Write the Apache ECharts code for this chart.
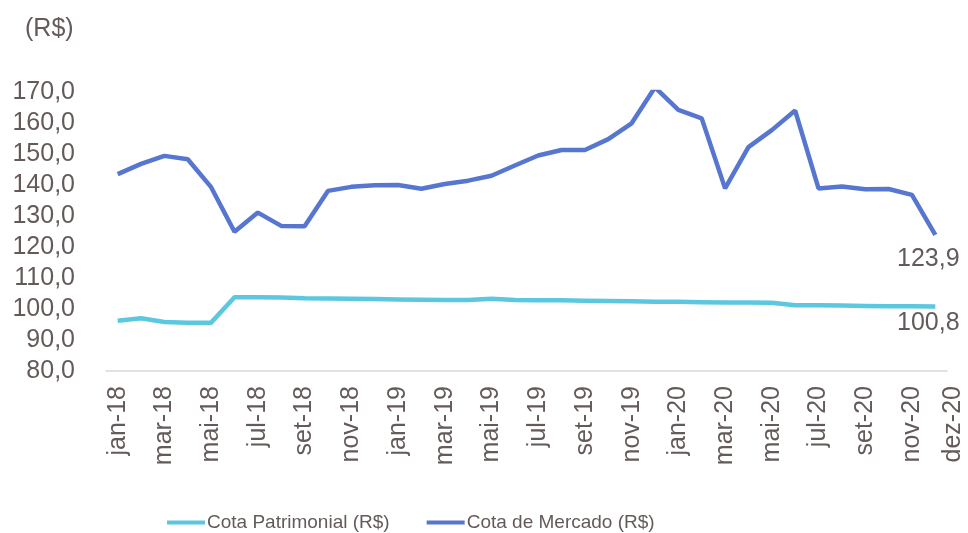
<!DOCTYPE html>
<html>
<head>
<meta charset="utf-8">
<script src="https://cdn.jsdelivr.net/npm/echarts@6/dist/echarts.min.js"></script>
<style>
  html, body { margin: 0; padding: 0; background: #fff; }
  #chart { width: 968px; height: 533px; }
</style>
</head>
<body>
<div id="chart"></div>
<script>
var meses = ['jan-18','fev-18','mar-18','abr-18','mai-18','jun-18','jul-18','ago-18','set-18','out-18','nov-18','dez-18',
             'jan-19','fev-19','mar-19','abr-19','mai-19','jun-19','jul-19','ago-19','set-19','out-19','nov-19','dez-19',
             'jan-20','fev-20','mar-20','abr-20','mai-20','jun-20','jul-20','ago-20','set-20','out-20','nov-20','dez-20'];

var cotaPatrimonial = [96.2, 97.0, 95.8, 95.6, 95.6, 103.8, 103.8, 103.7, 103.5, 103.4, 103.3, 103.2,
                       103.1, 103.0, 102.9, 102.9, 103.3, 102.9, 102.8, 102.8, 102.7, 102.6, 102.5, 102.3,
                       102.3, 102.2, 102.1, 102.1, 102.0, 101.2, 101.2, 101.1, 101.0, 100.9, 100.9, 100.8];

var cotaMercado = [143.5, 146.8, 149.4, 148.3, 139.3, 124.9, 131.1, 126.8, 126.7, 138.1, 139.4, 139.9,
                   140.0, 138.8, 140.3, 141.4, 143.0, 146.3, 149.5, 151.3, 151.3, 154.8, 159.9, 171.5,
                   164.2, 161.5, 138.9, 152.2, 157.7, 164.0, 138.9, 139.5, 138.6, 138.7, 136.8, 123.9];

var yMin = 80, yMax = 170, yStep = 10;

var corTexto = '#645a5a';
var fonte = 'Liberation Sans, Arial, sans-serif';
var ultimo = meses.length - 1;

function virgula(v) {
  return v.toFixed(1).replace('.', ',');
}

// rótulo só no último ponto
function rotuloFinal(params) {
  return params.dataIndex === ultimo ? virgula(params.value) : '';
}

var myChart = echarts.init(document.getElementById('chart'));
var option = {
  animation: false,
  title: {
    text: '(R$)',
    left: 20,
    top: 12,
    textStyle: { color: corTexto, fontSize: 25, fontWeight: 'normal', fontFamily: fonte }
  },
  grid: { left: 106, right: 21, top: 92, bottom: 162 },
  legend: {
    bottom: -4,
    left: 162,
    itemWidth: 38,
    itemHeight: 4,
    itemGap: 37,
    icon: 'rect',
    textStyle: { color: corTexto, fontSize: 19, fontFamily: fonte, padding: [0, 0, 0, -3] },
    data: ['Cota Patrimonial (R$)', 'Cota de Mercado (R$)']
  },
  xAxis: {
    type: 'category',
    data: meses,
    boundaryGap: true,
    axisLine: { lineStyle: { color: '#d9d9d9', width: 1.5 } },
    axisTick: { show: false },
    axisLabel: {
      rotate: 90,
      margin: 15,
      color: corTexto,
      fontSize: 25,
      fontFamily: fonte,
      showMaxLabel: true,
      hideOverlap: false,
      interval: function (i) { return i % 2 === 0 || i === ultimo; },
      formatter: function (v, i) {
        return i === ultimo ? '{ult|' + v + '}' : v;
      },
      rich: {
        ult: { color: corTexto, fontSize: 25, fontFamily: fonte, padding: [36, 0, 0, 0] }
      }
    }
  },
  yAxis: {
    type: 'value',
    min: yMin,
    max: yMax,
    interval: yStep,
    axisLine: { show: false },
    axisTick: { show: false },
    splitLine: { show: false },
    axisLabel: {
      margin: 31,
      color: corTexto,
      fontSize: 25,
      fontFamily: fonte,
      formatter: function (v) { return virgula(v); }
    }
  },
  series: [
    {
      name: 'Cota Patrimonial (R$)',
      type: 'line',
      data: cotaPatrimonial,
      symbol: 'circle',
      symbolSize: 0,
      showSymbol: true,
      lineStyle: { width: 4.5, color: '#5bc8df' },
      itemStyle: { color: '#5bc8df' },
      label: {
        show: true,
        position: 'bottom',
        distance: 4,
        offset: [-7, 0],
        color: corTexto,
        fontSize: 25,
        fontFamily: fonte,
        formatter: rotuloFinal
      }
    },
    {
      name: 'Cota de Mercado (R$)',
      type: 'line',
      data: cotaMercado,
      symbol: 'circle',
      symbolSize: 0,
      showSymbol: true,
      lineStyle: { width: 4.5, color: '#5676d0' },
      itemStyle: { color: '#5676d0' },
      label: {
        show: true,
        position: 'bottom',
        distance: 8,
        offset: [-7, 4],
        color: corTexto,
        fontSize: 25,
        fontFamily: fonte,
        formatter: rotuloFinal
      }
    }
  ]
};
myChart.setOption(option);
</script>
</body>
</html>
